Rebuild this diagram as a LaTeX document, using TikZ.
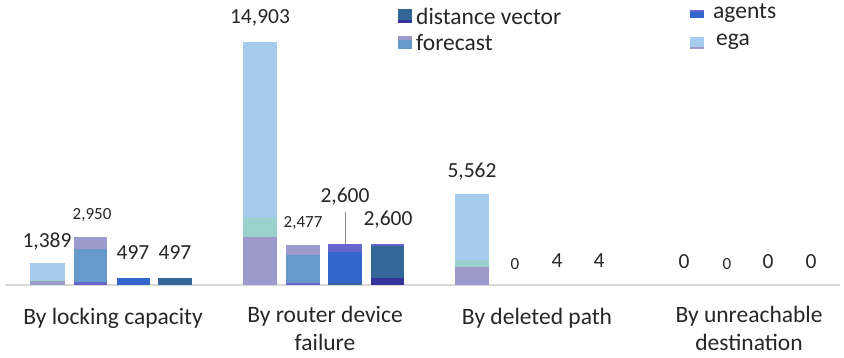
\documentclass[tikz,border=0pt]{standalone}
\usepackage{fontspec}
\setmainfont{Carlito}
\usepackage{xcolor}
\usepackage{tikz}
\usetikzlibrary{positioning, calc}
\definecolor{egablue}{HTML}{A7CBEF}
\definecolor{egateal}{HTML}{9BD1CC}
\definecolor{lavend}{HTML}{9C9ACD}
\definecolor{steelb}{HTML}{6699CC}
\definecolor{royalb}{HTML}{3366CC}
\definecolor{violet}{HTML}{6666CC}
\definecolor{darkst}{HTML}{336699}
\definecolor{navyb}{HTML}{333399}
\definecolor{txtgray}{HTML}{262626}
\tikzset{
  val/.style={text=txtgray, font=\fontsize{21.5}{24}\selectfont, inner sep=1pt},
  smallval/.style={text=txtgray, font=\fontsize{17}{19}\selectfont, inner sep=1pt},
  cat/.style={text=txtgray, font=\fontsize{23.5}{28}\selectfont, align=center, inner sep=1pt},
  legtext/.style={text=txtgray, font=\fontsize{23.5}{26}\selectfont, anchor=west, inner sep=1pt}
}

\begin{document}
\begin{tikzpicture}[x=1pt,y=-1pt]
\useasboundingbox (0,0) rectangle (844,358);
% Axis
\draw[line width=1.5pt, black!15] (5,285) -- (840,285);
% Group 1: by locking capacity
\fill[egablue] (30,263) rectangle (65,280);
\fill[egateal] (30,280) rectangle (65,281);
\fill[lavend] (30,281) rectangle (65,285);
\fill[lavend] (74,237) rectangle (107,249);
\fill[steelb] (74,249) rectangle (107,282);
\fill[violet] (74,282) rectangle (107,285);
\fill[royalb] (117,278) rectangle (150,285);
\fill[darkst] (158,278) rectangle (192,285);
% Group 2: by router device failure
\fill[egablue] (243,42) rectangle (277,217);
\fill[egateal] (243,217) rectangle (277,237);
\fill[lavend] (243,237) rectangle (277,285);
\fill[lavend] (286,245) rectangle (320,255);
\fill[steelb] (286,255) rectangle (320,283);
\fill[violet] (286,283) rectangle (320,285);
\fill[violet] (328,244) rectangle (362,252);
\fill[royalb] (328,252) rectangle (362,283);
\fill[darkst] (328,283) rectangle (362,285);
\fill[violet] (371,244) rectangle (404,246);
\fill[darkst] (371,246) rectangle (404,278);
\fill[navyb] (371,278) rectangle (404,285);
% Group 3: by deleted path
\fill[egablue] (455,194) rectangle (489,260);
\fill[egateal] (455,260) rectangle (489,267);
\fill[lavend] (455,267) rectangle (489,285);
% Value labels
\node[val] (v1389) at (47,242) {1,389};
\node[smallval] (v2950) at (92,215) {2,950};
\node[val] (v497a) at (133,253) {497};
\node[val] (v497b) at (175,253) {497};
\node[val] (v14903) at (260,18) {14,903};
\node[smallval] (v2477) at (303,223) {2,477};
\node[val] (v2600a) at (345,197) {2,600};
\node[val] (v2600b) at (388,220) {2,600};
\node[val] (v5562) at (472,172) {5,562};
\node[smallval] (v0a) at (515,264) {0};
\node[val] (v4a) at (557,261) {4};
\node[val] (v4b) at (599,261) {4};
\node[val] (v0b) at (684,262) {0};
\node[smallval] (v0c) at (727,264) {0};
\node[val] (v0d) at (768,262) {0};
\node[val] (v0e) at (811,262) {0};
% Leader line
\coordinate (top2600) at (345,244);
\draw[black!45, line width=0.8pt] (345,212) -- (top2600);
% Categories
\node[cat] (c1) at (113,318) {By locking capacity};
\node[cat, anchor=north] (c2) at (325,305) {By router device\\failure};
\node[cat] (c3) at (537,318) {By deleted path};
\node[cat, anchor=north] (c4) at (749,305) {By unreachable\\destination};
% Legend
\fill[darkst] (398,9) rectangle (412,20);
\fill[navyb] (398,20) rectangle (412,23);
\node[legtext] (ldv) at (415,16) {distance vector};
\fill[lavend] (398,36) rectangle (412,40);
\fill[steelb] (398,40) rectangle (412,49);
\node[legtext] (lfc) at (415,43) {forecast};
\fill[violet] (690,10) rectangle (704,12);
\fill[royalb] (690,12) rectangle (704,18);
\node[legtext] (lag) at (712,13) {agents};
\fill[egablue] (690,37) rectangle (704,47);
\fill[lavend] (690,47) rectangle (704,49);
\node[legtext] (leg) at (715,42) {ega};
\end{tikzpicture}
\end{document}
